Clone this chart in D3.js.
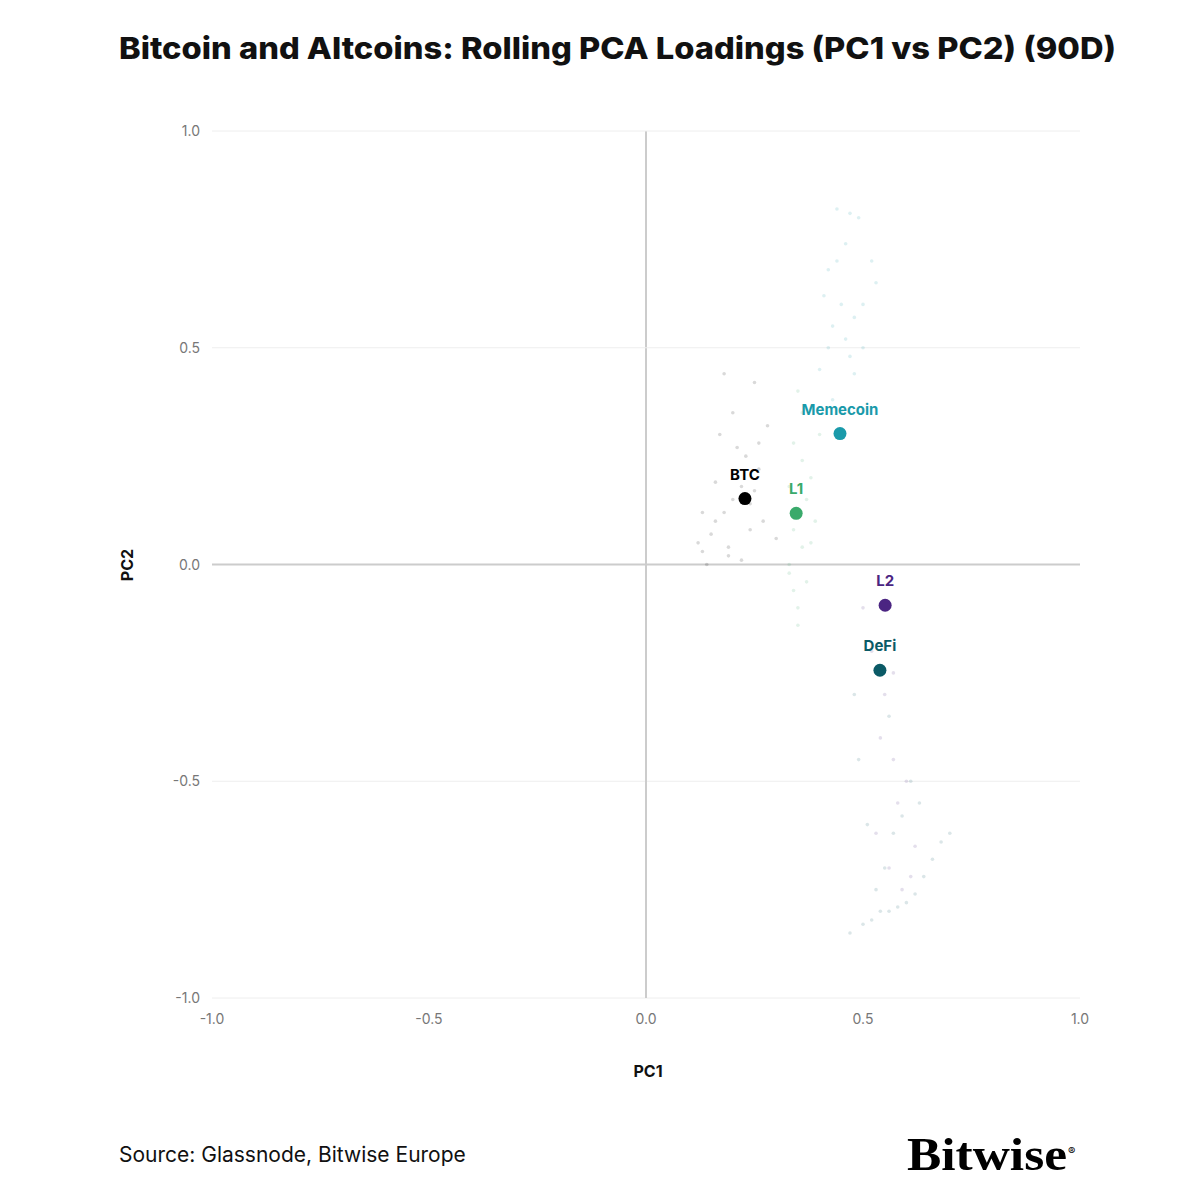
<!DOCTYPE html>
<html><head><meta charset="utf-8">
<script src="https://cdn.jsdelivr.net/npm/d3@7"></script>
<style>body{margin:0;background:#fff}</style>
</head><body><svg id="c" width="1200" height="1200"></svg>
<script>
const series = ["BTC","L1","Memecoin","L2","DeFi"];
const colors = ["#000000","#3aaa6b","#1a9aaa","#4b2582","#0b5a66"];
const pc1 = [0.228,0.346,0.447,0.551,0.539];
const pc2 = [0.152,0.118,0.302,-0.094,-0.244];
const ticks = [-1,-0.5,0,0.5,1];
// faint rolling-history trails (estimated)
const histBTC_x = [0.12,0.13,0.15,0.16,0.18,0.19,0.2,0.21,0.22,0.24,0.25,0.26,0.27,0.14,0.17,0.2,0.23,0.25,0.18,0.21,0.24,0.19,0.22,0.26,0.28,0.3,0.16,0.13];
const histBTC_y = [0.05,0.03,0.07,0.1,0.12,0.04,0.15,0.2,0.18,0.14,0.17,0.22,0.1,0.0,0.3,0.35,0.25,0.42,0.44,0.27,0.08,0.02,0.01,0.28,0.32,0.06,0.19,0.12];
const histL1_x = [0.33,0.34,0.35,0.36,0.34,0.37,0.38,0.33,0.35,0.36,0.39,0.4,0.34,0.36,0.38,0.37,0.33,0.35];
const histL1_y = [-0.02,-0.06,-0.1,0.04,0.08,0.15,0.2,0.0,-0.14,0.24,0.1,0.3,0.28,0.35,0.05,-0.04,0.18,0.4];
const histMeme_x = [0.4,0.42,0.43,0.45,0.46,0.47,0.48,0.5,0.44,0.46,0.49,0.52,0.41,0.44,0.47,0.43,0.45,0.5,0.53,0.42,0.48];
const histMeme_y = [0.45,0.5,0.55,0.6,0.52,0.48,0.44,0.6,0.7,0.74,0.8,0.7,0.62,0.82,0.81,0.38,0.35,0.5,0.65,0.68,0.57];
const histL2_x = [0.5,0.52,0.55,0.57,0.58,0.53,0.6,0.62,0.56,0.59,0.61,0.54,0.57];
const histL2_y = [-0.1,-0.2,-0.3,-0.45,-0.55,-0.62,-0.5,-0.65,-0.7,-0.75,-0.72,-0.4,-0.25];
const histDeFi_x = [0.47,0.5,0.52,0.54,0.56,0.58,0.6,0.62,0.64,0.66,0.68,0.53,0.55,0.57,0.59,0.61,0.51,0.49,0.48,0.56,0.63,0.7];
const histDeFi_y = [-0.85,-0.83,-0.82,-0.8,-0.8,-0.79,-0.78,-0.76,-0.72,-0.68,-0.64,-0.75,-0.7,-0.62,-0.58,-0.5,-0.6,-0.45,-0.3,-0.35,-0.55,-0.62];
const hist = [[histBTC_x,histBTC_y],[histL1_x,histL1_y],[histMeme_x,histMeme_y],[histL2_x,histL2_y],[histDeFi_x,histDeFi_y]];

const svg = d3.select("#c");
const x = d3.scaleLinear().domain([-1,1]).range([212,1080]);
const y = d3.scaleLinear().domain([-1,1]).range([998,131]);
const font = "Inter, 'Noto Sans', sans-serif";
const fmt = t => d3.format(".1f")(t).replace("\u2212","-");

svg.append("text").attr("x",119).attr("y",59).attr("font-family",font).attr("font-weight",800)
  .attr("font-size",30).attr("fill","#111").attr("textLength",997).attr("lengthAdjust","spacingAndGlyphs")
  .text("Bitcoin and Altcoins: Rolling PCA Loadings (PC1 vs PC2) (90D)");

const g = svg.append("g");
ticks.forEach(t=>{
  g.append("line").attr("x1",x(-1)).attr("x2",x(1)).attr("y1",y(t)).attr("y2",y(t))
    .attr("stroke", t===0?"#cccccc":"#eeeeee").attr("stroke-width", t===0?2:1);
  if(t===0) g.append("line").attr("y1",y(-1)).attr("y2",y(1)).attr("x1",x(t)).attr("x2",x(t))
    .attr("stroke","#cccccc").attr("stroke-width",2);
  g.append("text").attr("x",200).attr("y",y(t)+5).attr("text-anchor","end")
    .attr("font-family",font).attr("font-size",14).attr("fill","#777").text(fmt(t));
  g.append("text").attr("x",x(t)).attr("y",1024).attr("text-anchor","middle")
    .attr("font-family",font).attr("font-size",14).attr("fill","#777").text(fmt(t));
});
svg.append("text").attr("x",648).attr("y",1077).attr("text-anchor","middle").attr("font-family",font)
  .attr("font-weight",700).attr("font-size",16).attr("fill","#111").text("PC1");
svg.append("text").attr("transform","translate(133,565) rotate(-90)").attr("text-anchor","middle").attr("font-family",font)
  .attr("font-weight",700).attr("font-size",16).attr("fill","#111").text("PC2");

hist.forEach((h,i)=>{
  svg.append("g").selectAll("circle").data(h[0]).join("circle")
    .attr("cx",d=>x(d)).attr("cy",(d,j)=>y(h[1][j])).attr("r",1.8)
    .attr("fill",colors[i]).attr("opacity",0.15);
});

series.forEach((s,i)=>{
  svg.append("circle").attr("cx",x(pc1[i])).attr("cy",y(pc2[i])).attr("r",6.5).attr("fill",colors[i]);
  svg.append("text").attr("x",x(pc1[i])).attr("y",y(pc2[i])-19).attr("text-anchor","middle")
    .attr("font-family",font).attr("font-weight",700).attr("font-size",15).attr("fill",colors[i]).text(s);
});

svg.append("text").attr("x",119).attr("y",1162).attr("font-family",font).attr("font-size",21).attr("fill","#111")
  .text("Source: Glassnode, Bitwise Europe");
svg.append("text").attr("x",907).attr("y",1170).attr("font-family","'Liberation Serif', 'DejaVu Serif', serif")
  .attr("font-size",46).attr("font-weight",700).attr("fill","#000")
  .attr("textLength",160).attr("lengthAdjust","spacingAndGlyphs").text("Bitwise");
svg.append("text").attr("x",1068).attr("y",1155).attr("font-family",font).attr("font-size",11).attr("fill","#000").text("®");
</script></body></html>
